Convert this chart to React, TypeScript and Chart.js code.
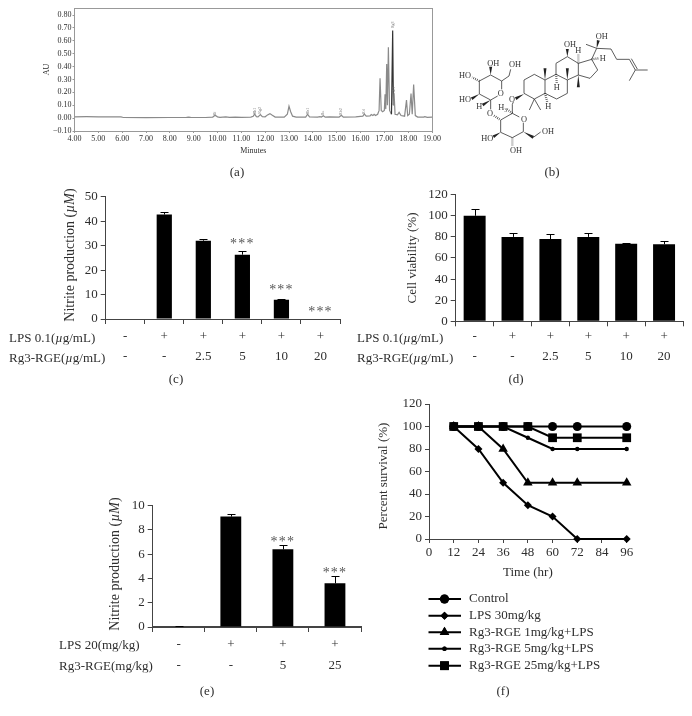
import React, { useEffect, useRef } from "react";
import { Chart, registerables } from "chart.js";
import { drawPoint } from "chart.js/helpers";

Chart.register(...registerables);

// ---------- data ----------
const hplcTimes = [4, 4.5, 5, 5.5, 5.95, 6.05, 7, 8, 8.7, 8.8, 8.9, 9.5, 9.8, 9.9, 10, 10.1, 10.35, 10.5, 10.75, 11, 11.4, 11.5, 11.56, 11.63, 11.7, 11.8, 11.88, 12, 12.1, 12.2, 12.3, 12.42, 12.8, 12.93, 13, 13.07, 13.15, 13.3, 13.7, 13.78, 13.86, 14.2, 14.3, 14.36, 14.44, 14.52, 14.7, 15.1, 15.2, 15.28, 15.8, 16, 16.1, 16.16, 16.24, 16.4, 16.45, 16.52, 16.57, 16.63, 16.72, 16.78, 16.82, 16.87, 16.93, 17, 17.03, 17.06, 17.1, 17.13, 17.17, 17.22, 17.3, 17.35, 17.38, 17.41, 17.45, 17.55, 17.62, 17.7, 17.85, 17.93, 17.98, 18.05, 18.12, 18.17, 18.23, 18.3, 18.4, 18.65, 18.7, 18.8, 19];
const hplcAU = [0.01, 0.011, 0.01, 0.01, 0.009, 0.005, 0.004, 0.005, 0.006, 0.008, 0.005, 0.005, 0.008, 0.022, 0.01, 0.006, 0.009, 0.006, 0.008, 0.006, 0.008, 0.015, 0.032, 0.012, 0.01, 0.028, 0.012, 0.01, 0.025, 0.035, 0.022, 0.008, 0.007, 0.03, 0.092, 0.05, 0.015, 0.008, 0.008, 0.03, 0.01, 0.008, 0.012, 0.008, 0.018, 0.007, 0.009, 0.008, 0.022, 0.008, 0.01, 0.014, 0.016, 0.032, 0.016, 0.018, 0.028, 0.02, 0.03, 0.02, 0.03, 0.06, 0.31, 0.06, 0.05, 0.06, 0.185, 0.07, 0.42, 0.1, 0.55, 0.06, 0.03, 0.68, 0.1, 0.19, 0.03, 0.025, 0.045, 0.02, 0.015, 0.14, 0.02, 0.03, 0.19, 0.03, 0.26, 0.02, 0.008, 0.008, 0.012, 0.006, 0.008];
const peakNames = ["Rf", "Rh1", "Rg2", "Rb1", "Rc", "Rb2", "Rd", "Rg3", "Rk1"];
const peakTimes = [9.9, 11.56, 11.8, 13.78, 14.44, 15.2, 16.15, 17.35, 17.41];
const peakLabelAU = [0.035, 0.055, 0.06, 0.055, 0.04, 0.05, 0.05, 0.725, 0.215];

const lpsDoseRows = [["-", "-"], ["+", "-"], ["+", "2.5"], ["+", "5"], ["+", "10"], ["+", "20"]];
const nitriteC = [0, 42.7, 32, 26.3, 7.9, 0];
const nitriteCTop = [null, 43.7, 32.6, 27.6, 8.3, null];
const nitriteCStars = [null, null, null, 31.9, 12.8, 4.1];
const viability = [100, 80, 78, 80, 73.5, 73];
const viabilityTop = [106, 84, 83, 84, 74.5, 76.5];

const mouseRows = [["-", "-"], ["+", "-"], ["+", "5"], ["+", "25"]];
const nitriteE = [0.05, 9.1, 6.4, 3.6];
const nitriteETop = [0.1, 9.35, 6.8, 4.2];
const nitriteEStars = [null, null, 7.25, 4.64];

const survivalHours = [12, 24, 36, 48, 60, 72, 96];
const control = [100, 100, 100, 100, 100, 100, 100];
const lps30 = [100, 80, 50, 30, 20, 0, 0];
const rge1 = [100, 100, 80, 50, 50, 50, 50];
const rge5 = [100, 100, 100, 90, 80, 80, 80];
const rge25 = [100, 100, 100, 100, 90, 90, 90];

const nitriteTitle: [string, boolean][] = [["Nitrite production (", false], ["\u00b5M", true], [")", false]];
const survivalTitle: [string, boolean][] = [["Percent survival (%)", false]];

// ---------- shared styling ----------
const SERIF = '"Liberation Serif"';
const INK = "#2e2e2e";
const AXIS = "#444444";
const font = (size: number, lineHeight = 1.2) => ({ family: SERIF, size, lineHeight });

const fitWidth = (w: number) => (s: any) => { s.width = w; };
const fitHeight = (h: number) => (s: any) => { s.height = h; };

const errorPlugin = (tops: (number | null)[], stars: (number | null)[], capHalf: number) => ({
  id: "errorBars",
  afterDatasetsDraw(chart: any) {
    const { ctx, scales } = chart;
    const bars = chart.getDatasetMeta(0).data;
    ctx.save();
    ctx.strokeStyle = "#000";
    ctx.lineWidth = 1;
    tops.forEach((top, i) => {
      if (top === null) return;
      const x = Math.round(bars[i].x) + 0.5;
      const y = Math.round(scales.y.getPixelForValue(top)) + 0.5;
      ctx.beginPath();
      ctx.moveTo(x, bars[i].y);
      ctx.lineTo(x, y);
      ctx.moveTo(x - capHalf, y);
      ctx.lineTo(x + capHalf, y);
      ctx.stroke();
    });
    ctx.fillStyle = "#555";
    ctx.font = `14px ${SERIF}`;
    ctx.textAlign = "center";
    ctx.textBaseline = "middle";
    (ctx as any).letterSpacing = "1.2px";
    stars.forEach((v, i) => {
      if (v === null) return;
      ctx.fillText("***", bars[i].x, scales.y.getPixelForValue(v) + 3);
    });
    ctx.restore();
  },
});

// rotated y-axis title, with italic runs; the built-in title can neither mix styles nor sit off-centre
const sideTitlePlugin = (runs: [string, boolean][], x: number, y: number, size: number) => ({
  id: "sideTitle",
  afterDraw(chart: any) {
    const { ctx } = chart;
    const fontOf = (it: boolean) => `${it ? "italic " : ""}${size}px ${SERIF}`;
    ctx.save();
    ctx.translate(x, y);
    ctx.rotate(-Math.PI / 2);
    ctx.fillStyle = INK;
    ctx.textAlign = "left";
    ctx.textBaseline = "middle";
    let total = 0;
    runs.forEach(([t, it]) => { ctx.font = fontOf(it); total += ctx.measureText(t).width; });
    let cx = -total / 2;
    runs.forEach(([t, it]) => {
      ctx.font = fontOf(it);
      ctx.fillText(t, cx, 0);
      cx += ctx.measureText(t).width;
    });
    ctx.restore();
  },
});

const peakLabelPlugin = {
  id: "peakLabels",
  afterDatasetsDraw(chart: any) {
    const { ctx, scales } = chart;
    ctx.save();
    ctx.fillStyle = "#777";
    ctx.font = `4px ${SERIF}`;
    ctx.textAlign = "center";
    ctx.textBaseline = "middle";
    peakNames.forEach((name, i) => {
      ctx.save();
      ctx.translate(scales.x.getPixelForValue(peakTimes[i]), scales.y.getPixelForValue(peakLabelAU[i]));
      ctx.rotate(-Math.PI / 2);
      ctx.fillText(name, 0, 0);
      ctx.restore();
    });
    ctx.restore();
  },
};

const legendPlugin = {
  id: "lineLegend",
  afterDraw(chart: any) {
    const { ctx } = chart;
    const rowY = [209, 225.7, 242.3, 258.7, 275.7];
    ctx.save();
    chart.data.datasets.forEach((ds: any, i: number) => {
      const y = rowY[i];
      ctx.strokeStyle = "#000";
      ctx.fillStyle = "#000";
      ctx.lineWidth = 2;
      ctx.beginPath();
      ctx.moveTo(58.5, y);
      ctx.lineTo(91, y);
      ctx.stroke();
      drawPoint(ctx, { pointStyle: ds.pointStyle, radius: ds.pointRadius, borderWidth: 0, rotation: 0 }, 74.5, y);
      ctx.fill();
      ctx.fillStyle = INK;
      ctx.font = `13px ${SERIF}`;
      ctx.textAlign = "left";
      ctx.textBaseline = "middle";
      ctx.fillText(ds.label, 99, y);
    });
    ctx.restore();
  },
};

type BarSpec = {
  axisLeft: number; top: number; right: number; xHeight: number;
  rows: string[][]; values: number[]; tops: (number | null)[]; stars: (number | null)[];
  yMax: number; yStep: number; barPct: number; capHalf: number; rowHeight: number; rowPad: number;
  baseline: number; yTitle?: { text: string; pad: number }; extra?: any[];
};

function barConfig(s: BarSpec): any {
  return {
    type: "bar",
    data: {
      labels: s.rows,
      datasets: [{ data: s.values, backgroundColor: "#000", barPercentage: s.barPct, categoryPercentage: 1 }],
    },
    options: {
      animation: false,
      responsive: false,
      layout: { autoPadding: false, padding: { top: s.top, right: s.right, left: 0, bottom: 0 } },
      plugins: { legend: { display: false }, tooltip: { enabled: false } },
      scales: {
        x: {
          offset: true,
          afterFit: fitHeight(s.xHeight),
          border: { display: true, color: AXIS, width: s.baseline },
          grid: { offset: true, drawOnChartArea: false, drawTicks: true, tickLength: 5, color: AXIS },
          ticks: { color: INK, font: font(13, s.rowHeight / 13), maxRotation: 0, autoSkip: false, padding: s.rowPad },
        },
        y: {
          min: 0,
          max: s.yMax,
          afterFit: fitWidth(s.axisLeft),
          border: { display: true, color: AXIS },
          grid: { drawOnChartArea: false, drawTicks: true, tickLength: 5, color: AXIS },
          ticks: { color: INK, font: font(13), stepSize: s.yStep, padding: 3 },
          title: s.yTitle
            ? { display: true, text: s.yTitle.text, color: INK, font: font(13), padding: { top: s.yTitle.pad, bottom: 0 } }
            : { display: false },
        },
      },
    },
    plugins: [errorPlugin(s.tops, s.stars, s.capHalf), ...(s.extra || [])],
  };
}

const hplcConfig: any = {
  type: "line",
  data: {
    datasets: [{
      data: hplcTimes.map((t, i) => ({ x: t, y: hplcAU[i] })),
      borderColor: "#8a8a8a",
      borderWidth: 1.2,
      pointRadius: 0,
      tension: 0,
      segment: { borderColor: (c: any) => (c.p0.parsed.x >= 17.3 && c.p1.parsed.x <= 17.38 ? "#333" : "#8a8a8a") },
    }],
  },
  options: {
    animation: false,
    responsive: false,
    layout: { autoPadding: false, padding: { top: 8, right: 18, left: 0, bottom: 0 } },
    plugins: { legend: { display: false }, tooltip: { enabled: false } },
    scales: {
      x: {
        type: "linear", min: 4, max: 19,
        afterFit: fitHeight(29),
        border: { display: true, color: "#999" },
        grid: { drawOnChartArea: false, drawTicks: true, tickLength: 2, color: "#999" },
        ticks: { stepSize: 1, color: INK, font: font(8), padding: 1, maxRotation: 0, autoSkip: false, callback: (v: number) => v.toFixed(2) },
        title: { display: true, text: "Minutes", color: INK, font: font(8), padding: { top: 0, bottom: 4 } },
      },
      x2: {
        type: "linear", position: "top", min: 4, max: 19,
        afterFit: fitHeight(0),
        border: { display: true, color: "#999" },
        grid: { display: false }, ticks: { display: false },
      },
      y: {
        min: -0.1, max: 0.855,
        afterFit: fitWidth(74.5),
        border: { display: true, color: "#999" },
        grid: { drawOnChartArea: false, drawTicks: true, tickLength: 2, color: "#999" },
        ticks: { stepSize: 0.1, includeBounds: false, color: INK, font: font(8), padding: 1, callback: (v: number) => (v < -0.05 ? "\u22120.10" : Math.abs(v).toFixed(2)) },
        title: { display: true, text: "AU", color: INK, font: font(8), padding: { top: 42, bottom: 0 } },
      },
      y2: {
        position: "right", min: -0.1, max: 0.855,
        afterFit: fitWidth(0),
        border: { display: true, color: "#999" },
        grid: { display: false }, ticks: { display: false },
      },
    },
  },
  plugins: [peakLabelPlugin],
};

const survivalSeries = [
  { label: "Control", data: control, pointStyle: "circle", pointRadius: 4.5, order: 4 },
  { label: "LPS 30mg/kg", data: lps30, pointStyle: "rectRot", pointRadius: 4, order: 3 },
  { label: "Rg3-RGE 1mg/kg+LPS", data: rge1, pointStyle: "triangle", pointRadius: 5.5, order: 2 },
  { label: "Rg3-RGE 5mg/kg+LPS", data: rge5, pointStyle: "circle", pointRadius: 2.2, order: 1 },
  { label: "Rg3-RGE 25mg/kg+LPS", data: rge25, pointStyle: "rect", pointRadius: 6.2, order: 0 },
];

const survivalConfig: any = {
  type: "line",
  data: {
    datasets: survivalSeries.map((s) => ({
      ...s,
      data: survivalHours.map((h, i) => ({ x: h, y: s.data[i] })),
      borderColor: "#000",
      backgroundColor: "#000",
      pointBackgroundColor: "#000",
      pointBorderColor: "#000",
      pointBorderWidth: 0,
      borderWidth: 2,
      tension: 0,
      clip: false,
    })),
  },
  options: {
    animation: false,
    responsive: false,
    layout: { autoPadding: false, padding: { top: 14, right: 65.3, left: 0, bottom: 0 } },
    plugins: { legend: { display: false }, tooltip: { enabled: false } },
    scales: {
      x: {
        type: "linear", min: 0, max: 96,
        afterFit: fitHeight(177),
        border: { display: true, color: AXIS },
        grid: { drawOnChartArea: false, drawTicks: true, tickLength: 4, color: AXIS },
        ticks: { stepSize: 12, color: INK, font: font(13), padding: 2, maxRotation: 0 },
        title: { display: true, text: "Time (hr)", color: INK, font: font(13), padding: { top: 0, bottom: 136 } },
      },
      y: {
        min: 0, max: 120,
        afterFit: fitWidth(59),
        border: { display: true, color: AXIS },
        grid: { drawOnChartArea: false, drawTicks: true, tickLength: 4, color: AXIS },
        ticks: { stepSize: 20, color: INK, font: font(13), padding: 3 },
      },
    },
  },
  plugins: [legendPlugin, sideTitlePlugin(survivalTitle, 13.7, 86, 13)],
};

// ---------- structure drawing of panel (b), in 3x units ----------
const bonds = [
  [222, 240, 253, 223], [253, 223, 285, 240], [285, 240, 285, 280], [285, 280, 253, 297], [253, 297, 222, 280], [222, 280, 222, 240],
  [253, 297, 238, 330], [253, 297, 272, 330],
  [285, 240, 318, 223], [318, 223, 352, 240], [352, 240, 352, 280], [352, 280, 320, 297], [320, 297, 285, 280],
  [318, 223, 318, 190], [318, 190, 352, 170], [352, 170, 385, 190], [385, 190, 385, 225], [385, 225, 352, 240],
  [385, 190, 425, 178], [425, 178, 443, 210], [443, 210, 420, 235], [420, 235, 385, 225],
  [425, 178, 440, 145], [440, 145, 408, 133], [440, 145, 483, 147], [483, 147, 500, 178], [500, 178, 538, 178],
  [538, 178, 556, 210], [544, 176, 562, 207], [556, 210, 593, 210], [556, 210, 538, 242],
  [88, 243, 122, 225], [122, 225, 155, 243], [155, 243, 155, 268], [143, 288, 122, 300], [122, 300, 88, 282], [88, 282, 88, 243],
  [155, 243, 177, 228], [177, 228, 182, 208], [122, 300, 122, 328],
  [187, 340, 208, 351], [220, 368, 220, 395], [220, 395, 187, 413], [187, 413, 152, 397], [152, 397, 152, 360], [152, 360, 187, 340],
  [187, 340, 187, 313], [187, 313, 190, 306], [250, 412, 272, 396],
];
const wedges = [
  [222, 282, 197, 296], [352, 170, 352, 147], [440, 145, 445, 121], [352, 240, 352, 205], [285, 240, 285, 205], [385, 225, 385, 262],
  [122, 225, 122, 200], [88, 282, 65, 296], [122, 300, 98, 315], [220, 395, 250, 412], [152, 397, 130, 410],
];
const hashes = [
  [385, 190, 385, 160], [425, 178, 446, 175], [318, 223, 320, 250], [285, 280, 292, 308],
  [88, 243, 66, 232], [187, 413, 187, 438], [132, 347, 152, 360], [187, 340, 170, 327],
];
const atoms: [string, number, number][] = [
  ["OH", 455, 110], ["OH", 360, 132], ["H", 385, 152], ["H", 458, 175], ["H", 320, 263], ["H", 295, 318],
  ["O", 186, 298], ["OH", 130, 190], ["OH", 195, 192], ["HO", 45, 226], ["HO", 45, 299], ["O", 152, 281], ["H", 88, 318],
  ["O", 120, 340], ["H\u2083", 158, 321], ["O", 222, 357], ["OH", 294, 395], ["HO", 112, 414], ["OH", 198, 452],
];

function Molecule() {
  return (
    <svg width={242} height={170} viewBox="0 0 726 510" style={{ position: "absolute", left: 450, top: 0, willChange: "transform" }}>
      {bonds.map((b, i) => <line key={i} x1={b[0]} y1={b[1]} x2={b[2]} y2={b[3]} stroke="#333" strokeWidth={2.4} />)}
      {wedges.map((w, i) => {
        const dx = w[2] - w[0], dy = w[3] - w[1], l = Math.hypot(dx, dy);
        const nx = (-dy / l) * 4.5, ny = (dx / l) * 4.5;
        return <polygon key={i} points={`${w[0]},${w[1]} ${w[2] + nx},${w[3] + ny} ${w[2] - nx},${w[3] - ny}`} fill="#222" />;
      })}
      {hashes.map((h, i) => <line key={i} x1={h[0]} y1={h[1]} x2={h[2]} y2={h[3]} stroke="#333" strokeWidth={7} strokeDasharray="2 4" />)}
      {atoms.map(([t, x, y], i) => (
        <text key={i} x={x} y={y} fontSize={25} fontFamily={SERIF} fill="#333" textAnchor="middle" dominantBaseline="central">{t}</text>
      ))}
    </svg>
  );
}

const Label = ({ x, y, children, center }: any) => (
  <div style={{ position: "absolute", left: x, top: y, transform: center ? "translate(-50%,-50%)" : "translateY(-50%)", willChange: "transform", font: `13px ${SERIF}`, color: INK, whiteSpace: "nowrap", lineHeight: 1 }}>
    {children}
  </div>
);

const mu = <i>{"\u00b5"}</i>;

export default function App() {
  const a = useRef<HTMLCanvasElement>(null);
  const c = useRef<HTMLCanvasElement>(null);
  const d = useRef<HTMLCanvasElement>(null);
  const e = useRef<HTMLCanvasElement>(null);
  const f = useRef<HTMLCanvasElement>(null);

  useEffect(() => {
    const charts = [
      new Chart(a.current!, hplcConfig),
      new Chart(c.current!, barConfig({
        axisLeft: 105.7, top: 16.7, right: 10, xHeight: 61, rows: lpsDoseRows,
        values: nitriteC, tops: nitriteCTop, stars: nitriteCStars, yMax: 50, yStep: 10,
        barPct: 0.39, capHalf: 4, rowHeight: 20.3, rowPad: 2, baseline: 1,
        extra: [sideTitlePlugin(nitriteTitle, 70.7, 75, 14)],
      })),
      new Chart(d.current!, barConfig({
        axisLeft: 105.7, top: 14.7, right: 9, xHeight: 58.7, rows: lpsDoseRows,
        values: viability, tops: viabilityTop, stars: [null, null, null, null, null, null], yMax: 120, yStep: 20,
        barPct: 0.58, capHalf: 4, rowHeight: 20.3, rowPad: 0, baseline: 1,
        yTitle: { text: "Cell viability (%)", pad: 54.9 },
      })),
      new Chart(e.current!, barConfig({
        axisLeft: 152.7, top: 15.7, right: 9, xHeight: 60, rows: mouseRows,
        values: nitriteE, tops: nitriteETop, stars: nitriteEStars, yMax: 10, yStep: 2,
        barPct: 0.4, capHalf: 4, rowHeight: 21, rowPad: 2, baseline: 2,
        extra: [sideTitlePlugin(nitriteTitle, 115, 74, 14)],
      })),
      new Chart(f.current!, survivalConfig),
    ];
    return () => charts.forEach((ch) => ch.destroy());
  }, []);

  const pos = (left: number, top: number): React.CSSProperties => ({ position: "absolute", left, top });

  return (
    <div style={{ position: "absolute", left: 0, top: 0, width: 692, height: 716, overflow: "hidden", background: "#fff" }}>
      <canvas ref={a} width={450} height={160} style={pos(0, 0)} />
      <Molecule />
      <canvas ref={c} width={350} height={200} style={pos(0, 180)} />
      <canvas ref={d} width={342} height={200} style={pos(350, 180)} />
      <canvas ref={e} width={370} height={197} style={pos(0, 490)} />
      <canvas ref={f} width={322} height={326} style={pos(370, 390)} />

      <Label x={237} y={171} center>(a)</Label>
      <Label x={552} y={171} center>(b)</Label>
      <Label x={176} y={378} center>(c)</Label>
      <Label x={516} y={378} center>(d)</Label>
      <Label x={207} y={690} center>(e)</Label>
      <Label x={503} y={690} center>(f)</Label>

      <Label x={9} y={336.7}>LPS 0.1({mu}g/mL)</Label>
      <Label x={9} y={357}>Rg3-RGE({mu}g/mL)</Label>

      <Label x={357} y={336.7}>LPS 0.1({mu}g/mL)</Label>
      <Label x={357} y={357}>Rg3-RGE({mu}g/mL)</Label>

      <Label x={58.7} y={644}>LPS 20(mg/kg)</Label>
      <Label x={58.7} y={665}>Rg3-RGE(mg/kg)</Label>
    </div>
  );
}
